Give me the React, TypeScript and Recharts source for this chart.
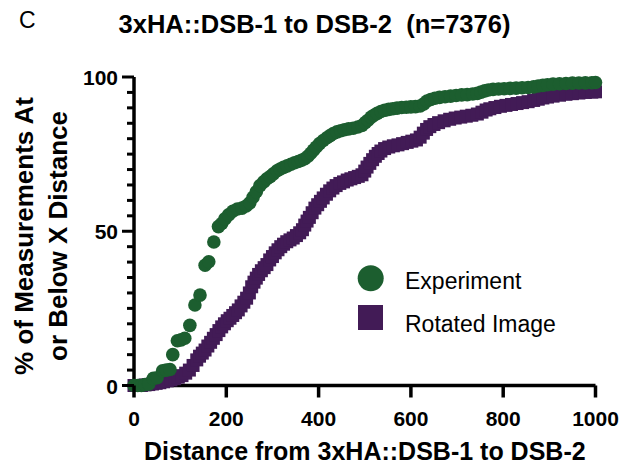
import { ScatterChart, Scatter, XAxis, YAxis } from 'recharts';

const GREEN = '#1c5e2f';
const PURPLE = '#421b56';
const FONT = '"Liberation Sans", Arial, Helvetica, sans-serif';

const title = '3xHA::DSB-1 to DSB-2\u00a0\u00a0(n=7376)';
const panelLetter = 'C';
const xLabel = 'Distance from 3xHA::DSB-1 to DSB-2';
const yLabelLines = ['% of Measurements At', 'or Below X Distance'];
const seriesNames = ['Experiment', 'Rotated Image'];

const xTicks = [0, 200, 400, 600, 800, 1000];
const yTicks = [0, 5, 10, 15, 20, 25, 30, 35, 40, 45, 50, 55, 60, 65, 70, 75, 80, 85, 90, 95, 100];
const yLabelled = [0, 50, 100];

// cumulative %, [distance, percent]
const experiment: [number, number][] = [
  [0, 0], [8, 0], [16, 0], [24, 0.3], [32, 0.5], [42, 2.3], [50, 2.5], [62, 4.8], [70, 5], [78, 5.2],
  [84, 10], [94, 14.5], [102, 14.8], [110, 15.3], [121, 19.5], [132, 26.1], [143, 29.3], [154, 39],
  [162, 40.1], [173, 46.5], [183, 51.5], [190, 52.5], [197, 54], [205, 55.3], [214, 56.5], [224, 57.2],
  [234, 57.5], [243, 58.2], [251, 59.2], [258, 61], [265, 62.8], [273, 64.8], [281, 66], [288, 67],
  [295, 67.7], [302, 68.6], [310, 69.6], [317, 70.2], [324, 70.7], [332, 71.2], [340, 71.7], [348, 72.2],
  [356, 72.6], [363, 73], [370, 73.5], [377, 74.3], [383, 75.3], [389, 76.3], [395, 77.3], [402, 78.4],
  [410, 79.4], [418, 80.3], [425, 81], [432, 81.7], [440, 82.2], [448, 82.6], [456, 82.9], [465, 83.2],
  [475, 83.4], [485, 83.8], [494, 84.3], [501, 85.2], [507, 86], [514, 87], [520, 87.6], [527, 88.2],
  [535, 88.8], [543, 89.2], [552, 89.5], [561, 89.7], [570, 89.9], [580, 90.1], [590, 90.2], [600, 90.3],
  [610, 90.4], [620, 90.6], [628, 91.3], [635, 92.2], [643, 92.7], [652, 93.1], [662, 93.4], [674, 93.6],
  [686, 93.8], [698, 94], [710, 94.2], [722, 94.3], [734, 94.5], [744, 94.7], [752, 95.1], [760, 95.5],
  [768, 95.8], [778, 96], [790, 96.1], [802, 96.2], [815, 96.3], [828, 96.4], [841, 96.5], [854, 96.6],
  [866, 96.8], [876, 97.1], [886, 97.3], [896, 97.5], [908, 97.7], [922, 97.8], [936, 97.9], [950, 98],
  [964, 98.05], [978, 98.1], [992, 98.15], [1000, 98.2],
];

const rotated: [number, number][] = [
  [0, 0], [8, 0], [16, 0], [24, 0.2], [32, 0.3], [40, 0.5], [48, 0.7], [56, 0.9], [64, 1.2], [72, 1.5],
  [80, 1.8], [88, 2.2], [96, 2.7], [104, 3.2], [112, 4], [120, 5], [128, 6.5], [136, 8.3], [142, 9.5],
  [148, 10.5], [154, 11.5], [160, 12.8], [166, 14], [172, 15.3], [178, 16.5], [184, 17.8], [190, 19],
  [196, 20], [202, 21], [208, 21.8], [214, 22.7], [220, 23.6], [226, 24.5], [232, 25.8], [238, 27],
  [244, 28.3], [250, 30], [255, 32], [260, 33.5], [265, 34.8], [270, 36], [276, 37.2], [282, 38.2],
  [288, 39.2], [294, 40.7], [300, 41.8], [306, 43], [312, 44], [318, 45], [324, 45.8], [331, 46.6],
  [338, 47.2], [345, 47.8], [352, 48.6], [359, 49.5], [365, 50.5], [370, 52], [375, 53.3], [380, 54.5],
  [386, 56], [392, 57.5], [398, 58.6], [404, 59.7], [410, 60.8], [417, 62], [424, 63.1], [431, 64],
  [438, 64.8], [446, 65.5], [454, 66], [462, 66.6], [470, 67], [478, 67.4], [486, 67.8], [494, 68.3],
  [500, 69.5], [505, 70.8], [511, 72], [517, 73.2], [523, 74.3], [529, 75.2], [535, 76], [543, 76.8],
  [552, 77.3], [562, 77.7], [572, 78], [582, 78.4], [592, 78.8], [602, 79.2], [612, 79.6], [620, 80.5],
  [627, 81.8], [634, 83], [641, 83.9], [650, 84.6], [660, 85.2], [672, 85.8], [684, 86.3], [696, 86.7],
  [708, 87], [720, 87.3], [732, 87.6], [744, 88], [754, 88.6], [763, 89.3], [771, 89.7], [782, 90.1],
  [794, 90.5], [806, 90.8], [818, 91.1], [830, 91.4], [842, 91.7], [854, 92], [866, 92.4], [876, 92.8],
  [886, 93.2], [896, 93.5], [908, 93.8], [922, 94.1], [936, 94.4], [950, 94.6], [964, 94.8], [978, 95],
  [992, 95.1], [1000, 95.2],
];

const toRows = (pts: [number, number][]) => pts.map(([x, y]) => ({ x, y }));

function CircleDot(props: any) {
  const { cx, cy } = props;
  if (cx == null || cy == null) return null;
  return <circle cx={cx} cy={cy} r={6.8} fill={GREEN} />;
}

function SquareDot(props: any) {
  const { cx, cy } = props;
  if (cx == null || cy == null) return null;
  return <rect x={cx - 6.5} y={cy - 6.5} width={13} height={13} fill={PURPLE} />;
}

function YTick(props: any) {
  const { x, y, payload } = props;
  const major = yLabelled.includes(payload.value);
  return (
    <g>
      <line x1={x - (major ? 12 : 7)} x2={x} y1={y} y2={y} stroke="#000" strokeWidth={3} />
      {major && (
        <text x={x - 16} y={y + 8} textAnchor="end" fontFamily={FONT} fontWeight="bold" fontSize={21} fill="#000">
          {payload.value}
        </text>
      )}
    </g>
  );
}

function XTick(props: any) {
  const { x, y, payload } = props;
  return (
    <g>
      <line x1={x} x2={x} y1={y} y2={y + 12} stroke="#000" strokeWidth={3.5} />
      <text x={x} y={y + 40} textAnchor="middle" fontFamily={FONT} fontWeight="bold" fontSize={21} fill="#000">
        {payload.value}
      </text>
    </g>
  );
}

function XLabel(props: any) {
  const { viewBox } = props;
  const cx = viewBox.x + viewBox.width / 2;
  return (
    <text x={cx} y={viewBox.y + 74.5} textAnchor="middle" fontFamily={FONT} fontWeight="bold" fontSize={25} fill="#000">
      {xLabel}
    </text>
  );
}

function YLabel() {
  return (
    <g fontFamily={FONT} fontWeight="bold" fontSize={26} fill="#000">
      <text transform="translate(33, 236) rotate(-90)" textAnchor="middle">{yLabelLines[0]}</text>
      <text transform="translate(67, 236) rotate(-90)" textAnchor="middle">{yLabelLines[1]}</text>
    </g>
  );
}

export default function App() {
  return (
    <div style={{ position: 'absolute', left: 0, top: 0, width: 625, height: 467, background: '#fff' }}>
      <ScatterChart width={625} height={467} margin={{ top: 77, right: 29.5, bottom: 31.5, left: 74 }}>
        <XAxis
          type="number"
          dataKey="x"
          domain={[0, 1000]}
          ticks={xTicks}
          height={50}
          tickSize={0}
          tickMargin={0}
          tickLine={false}
          axisLine={{ stroke: '#000', strokeWidth: 3.5 }}
          tick={<XTick />}
          label={<XLabel />}
        />
        <YAxis
          type="number"
          dataKey="y"
          domain={[0, 100]}
          ticks={yTicks}
          width={60}
          interval={0}
          tickSize={0}
          tickMargin={0}
          tickLine={false}
          axisLine={{ stroke: '#000', strokeWidth: 3.5 }}
          tick={<YTick />}
          label={<YLabel />}
        />
        <Scatter name={seriesNames[1]} data={toRows(rotated)} shape={<SquareDot />} isAnimationActive={false} />
        <Scatter name={seriesNames[0]} data={toRows(experiment)} shape={<CircleDot />} isAnimationActive={false} />
      </ScatterChart>
      <svg width={625} height={467} style={{ position: 'absolute', left: 0, top: 0, pointerEvents: 'none' }}>
        <text x={19} y={28} fontFamily={FONT} fontSize={23} fill="#000">{panelLetter}</text>
        <text x={314.5} y={33} textAnchor="middle" fontFamily={FONT} fontWeight="bold" fontSize={25.5} fill="#000">
          {title}
        </text>
        <g fontFamily={FONT} fontSize={23} fill="#000">
          <circle cx={370.7} cy={278.3} r={13} fill={GREEN} />
          <text x={405} y={289}>{seriesNames[0]}</text>
          <rect x={358} y={305} width={25} height={25} fill={PURPLE} />
          <text x={405} y={331.7}>{seriesNames[1]}</text>
        </g>
      </svg>
    </div>
  );
}
